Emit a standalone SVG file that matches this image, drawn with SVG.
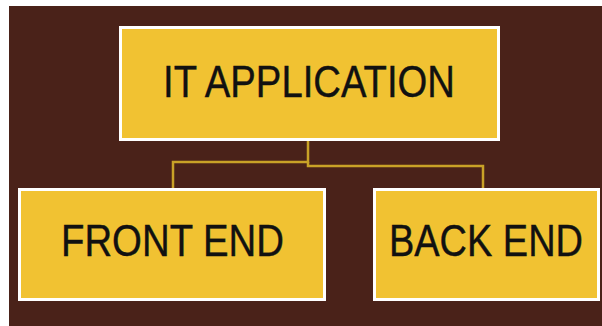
<svg xmlns="http://www.w3.org/2000/svg" width="602" height="326" viewBox="0 0 602 326">
<style>
.box{fill:#f1c232;stroke:#ffffff;stroke-width:3}
.lbl{font-family:"Liberation Sans","DejaVu Sans",sans-serif;font-size:44px;fill:#111;stroke:#111;stroke-width:0.4;text-anchor:middle}
.conn{fill:none;stroke:#c9a227;stroke-width:2.5}
</style>
<rect x="0" y="0" width="602" height="326" fill="#ffffff"/>
<rect x="9" y="6" width="593" height="320" fill="#4a2219"/>
<g id="connectors">
<path class="conn" d="M308,140 V162 H173 V188"/>
<path class="conn" d="M308,162 V166 H483 V188"/>
</g>
<g id="it-application">
<rect class="box" x="120.5" y="27.5" width="378" height="112"/>
<text class="lbl" x="309" y="97" textLength="292" lengthAdjust="spacingAndGlyphs">IT APPLICATION</text>
</g>
<g id="front-end">
<rect class="box" x="19.5" y="189.5" width="305" height="110"/>
<text class="lbl" x="172.5" y="256" textLength="223" lengthAdjust="spacingAndGlyphs">FRONT END</text>
</g>
<g id="back-end">
<rect class="box" x="374.5" y="189.5" width="224" height="110"/>
<text class="lbl" x="486" y="256" textLength="194" lengthAdjust="spacingAndGlyphs">BACK END</text>
</g>
</svg>
